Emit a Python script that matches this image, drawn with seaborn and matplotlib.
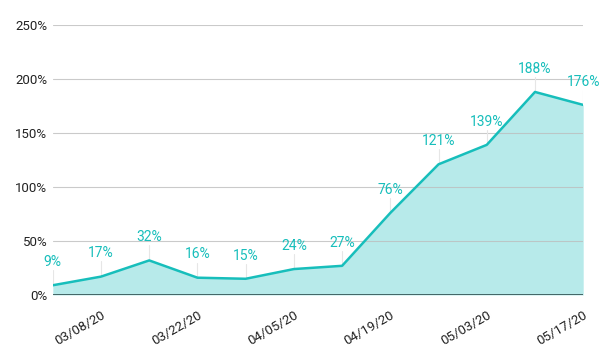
import matplotlib.pyplot as plt
import pandas as pd
import seaborn as sns
from matplotlib.ticker import FuncFormatter

dates = ["03/01/20", "03/08/20", "03/15/20", "03/22/20", "03/29/20", "04/05/20",
         "04/12/20", "04/19/20", "04/26/20", "05/03/20", "05/10/20", "05/17/20"]
growth = [9, 17, 32, 16, 15, 24, 27, 76, 121, 139, 188, 176]
tick_dates = ["03/08/20", "03/22/20", "04/05/20", "04/19/20", "05/03/20", "05/17/20"]

LINE = "#17BEBB"
FILL = "#B7EAEA"

sns.set_style("white")
plt.rcParams["font.family"] = ["Roboto", "DejaVu Sans"]

df = pd.DataFrame({"date": dates, "growth": growth})
df["i"] = range(len(df))

fig = plt.figure(figsize=(6, 3.52), dpi=100)
ax = fig.add_axes([0.088, 0.162, 0.884, 0.767])

ax.fill_between(df["i"], df["growth"], 0, color=FILL, lw=0, zorder=1)
sns.lineplot(data=df, x="i", y="growth", color=LINE, lw=1.8, ax=ax, zorder=3)

for y in range(50, 251, 50):
    ax.axhline(y, color="#BDBDBD", lw=0.8, alpha=0.8, zorder=2)
ax.axhline(0, color="#2F4F4F", lw=1.2, zorder=4)

for i, v in zip(df["i"], df["growth"]):
    ax.plot([i, i], [v, v + 14], color="#E6E6E6", lw=0.8, zorder=2)
    ax.text(i, v + 15, f"{v}%", ha="center", va="bottom", color=LINE,
            fontsize=10, zorder=5)

ax.set_xlim(0, len(df) - 1)
ax.set_ylim(0, 250)
ax.set_yticks(range(0, 251, 50))
ax.yaxis.set_major_formatter(FuncFormatter(lambda v, _: f"{v:.0f}%"))
ax.set_xticks([dates.index(d) for d in tick_dates])
ax.set_xticklabels(tick_dates, rotation=30, ha="right", rotation_mode="anchor")
ax.tick_params(axis="both", length=0, labelsize=9.5, colors="#222222", pad=4)
ax.tick_params(axis="x", pad=10)
ax.set_xlabel("")
ax.set_ylabel("")
sns.despine(ax=ax, left=True, bottom=True, right=True, top=True)

fig.savefig("out.png", dpi=100)
